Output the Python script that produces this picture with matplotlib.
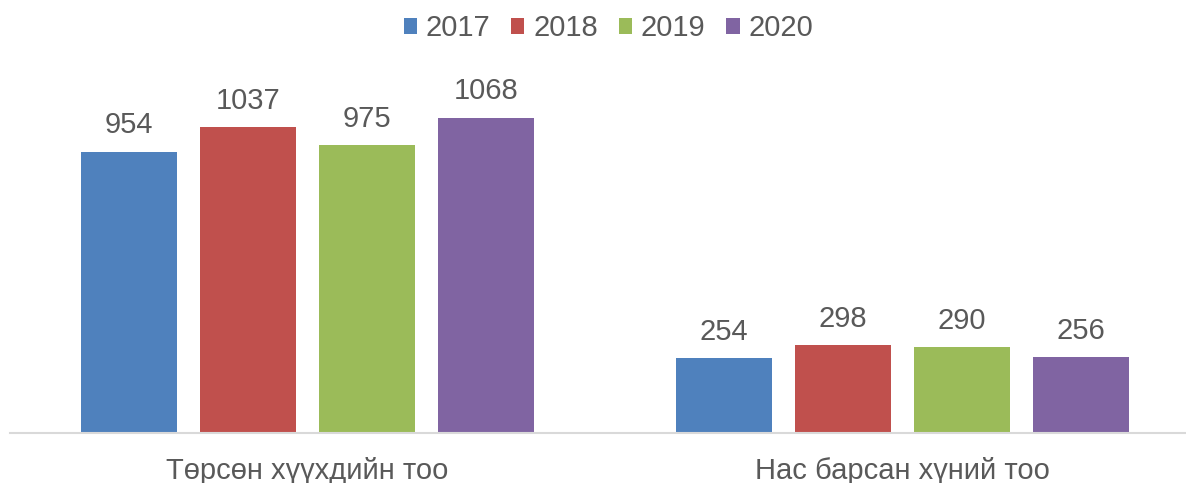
import numpy as np
import matplotlib.pyplot as plt

plt.rcParams['font.family'] = ['Liberation Sans', 'DejaVu Sans']

categories = ['Төрсөн хүүхдийн тоо', 'Нас барсан хүний тоо']
years = ['2017', '2018', '2019', '2020']
values_2017 = [954, 254]
values_2018 = [1037, 298]
values_2019 = [975, 290]
values_2020 = [1068, 256]

series = [values_2017, values_2018, values_2019, values_2020]
colors = ['#4F81BD', '#C0504D', '#9BBB59', '#8064A2']
text_color = '#595959'

fig = plt.figure(figsize=(11.86, 4.83), dpi=100)
ax = fig.add_axes([10 / 1186, 50 / 483, 1176 / 1186, 354 / 483])

x = np.arange(len(categories))
width = 0.16
offsets = [-0.3, -0.1, 0.1, 0.3]

for vals, year, color, off in zip(series, years, colors, offsets):
    bars = ax.bar(x + off, vals, width, color=color, label=year)
    ax.bar_label(bars, labels=[str(v) for v in vals], padding=9,
                 fontsize=21, color=text_color)

ax.set_xlim(-0.5, -0.5 + 1176 / 595)
ax.set_ylim(0, 1200)
ax.set_xticks(x)
ax.set_xticklabels(categories, fontsize=21, color=text_color)
ax.tick_params(axis='x', length=0, pad=17)
ax.set_yticks([])
for side in ['top', 'right', 'left']:
    ax.spines[side].set_visible(False)
ax.spines['bottom'].set_color('#D9D9D9')
ax.spines['bottom'].set_linewidth(1.5)

leg = fig.legend(loc='upper center', bbox_to_anchor=(0.513, 1.025), ncol=4,
                 frameon=False, fontsize=21, handlelength=0.45, handleheight=0.45,
                 handletextpad=0.3, columnspacing=0.72)
for t in leg.get_texts():
    t.set_color(text_color)

fig.savefig('out.png', dpi=100)
